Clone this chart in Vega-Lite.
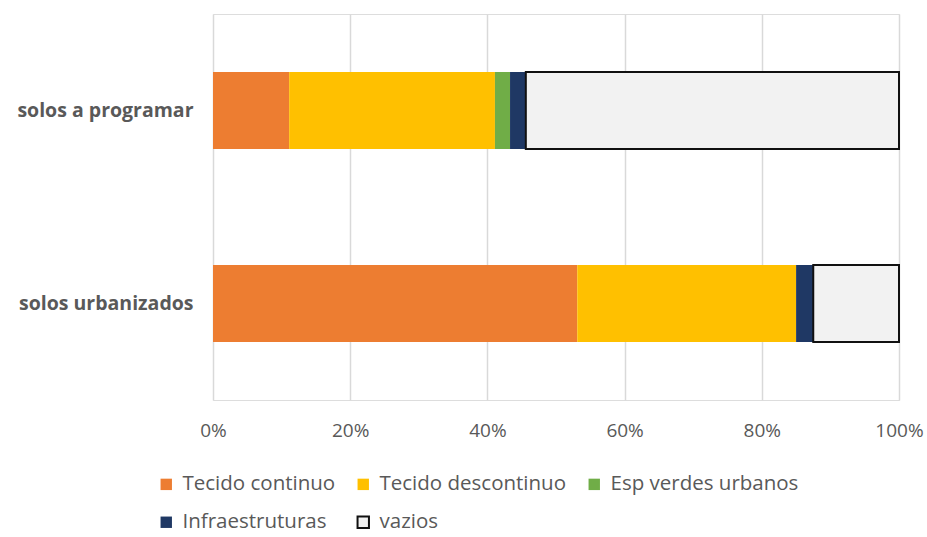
{
  "$schema": "https://vega.github.io/schema/vega-lite/v6.json",
  "autosize": "none",
  "width": 686,
  "height": 386,
  "padding": {"left": 213, "top": 14, "right": 28, "bottom": 137},
  "background": "white",
  "data": {
    "values": [
      {"uso": "solos a programar", "tipo": "Tecido continuo", "ord": 1, "pct": 11.1},
      {"uso": "solos a programar", "tipo": "Tecido descontinuo", "ord": 2, "pct": 30.0},
      {"uso": "solos a programar", "tipo": "Esp verdes urbanos", "ord": 3, "pct": 2.2},
      {"uso": "solos a programar", "tipo": "Infraestruturas", "ord": 4, "pct": 2.3},
      {"uso": "solos a programar", "tipo": "vazios", "ord": 5, "pct": 54.4},
      {"uso": "solos urbanizados", "tipo": "Tecido continuo", "ord": 1, "pct": 53.1},
      {"uso": "solos urbanizados", "tipo": "Tecido descontinuo", "ord": 2, "pct": 31.9},
      {"uso": "solos urbanizados", "tipo": "Esp verdes urbanos", "ord": 3, "pct": 0.0},
      {"uso": "solos urbanizados", "tipo": "Infraestruturas", "ord": 4, "pct": 2.5},
      {"uso": "solos urbanizados", "tipo": "vazios", "ord": 5, "pct": 12.5}
    ]
  },
  "mark": {"type": "bar", "strokeWidth": 2},
  "encoding": {
    "y": {
      "field": "uso",
      "type": "nominal",
      "sort": ["solos a programar", "solos urbanizados"],
      "scale": {"paddingInner": 0.6, "paddingOuter": 0.3},
      "axis": {
        "title": null,
        "domain": false,
        "ticks": false,
        "grid": false,
        "labelPadding": 20,
        "labelLimit": 300,
        "labelFont": "Open Sans",
        "labelFontSize": 19.5,
        "labelFontWeight": "bold",
        "labelColor": "#595959"
      }
    },
    "x": {
      "field": "pct",
      "type": "quantitative",
      "stack": "zero",
      "scale": {"domain": [0, 100]},
      "axis": {
        "title": null,
        "values": [0, 20, 40, 60, 80, 100],
        "labelExpr": "datum.value + '%'",
        "labelFlush": false,
        "domain": false,
        "ticks": false,
        "grid": true,
        "gridColor": "#d9d9d9",
        "gridWidth": 1.5,
        "labelPadding": 21,
        "labelFont": "Open Sans",
        "labelFontSize": 19,
        "labelColor": "#595959"
      }
    },
    "order": {"field": "ord", "type": "quantitative"},
    "color": {
      "field": "tipo",
      "type": "nominal",
      "scale": {
        "domain": ["Tecido continuo", "Tecido descontinuo", "Esp verdes urbanos", "Infraestruturas", "vazios"],
        "range": ["#ed7d31", "#ffc000", "#70ad47", "#1f3864", "#f2f2f2"]
      },
      "legend": {
        "title": null,
        "orient": "none",
        "legendX": -57,
        "legendY": 460,
        "direction": "horizontal",
        "columns": 3,
        "symbolType": "square",
        "symbolSize": 130,
        "symbolStrokeWidth": 2,
        "labelFont": "Open Sans",
        "labelFontSize": 20.5,
        "labelColor": "#595959",
        "labelOffset": 6,
        "columnPadding": 17,
        "rowPadding": 17,
        "labelLimit": 400
      }
    },
    "stroke": {
      "field": "tipo",
      "type": "nominal",
      "scale": {
        "domain": ["Tecido continuo", "Tecido descontinuo", "Esp verdes urbanos", "Infraestruturas", "vazios"],
        "range": ["transparent", "transparent", "transparent", "transparent", "#111111"]
      },
      "legend": null
    }
  }
}
